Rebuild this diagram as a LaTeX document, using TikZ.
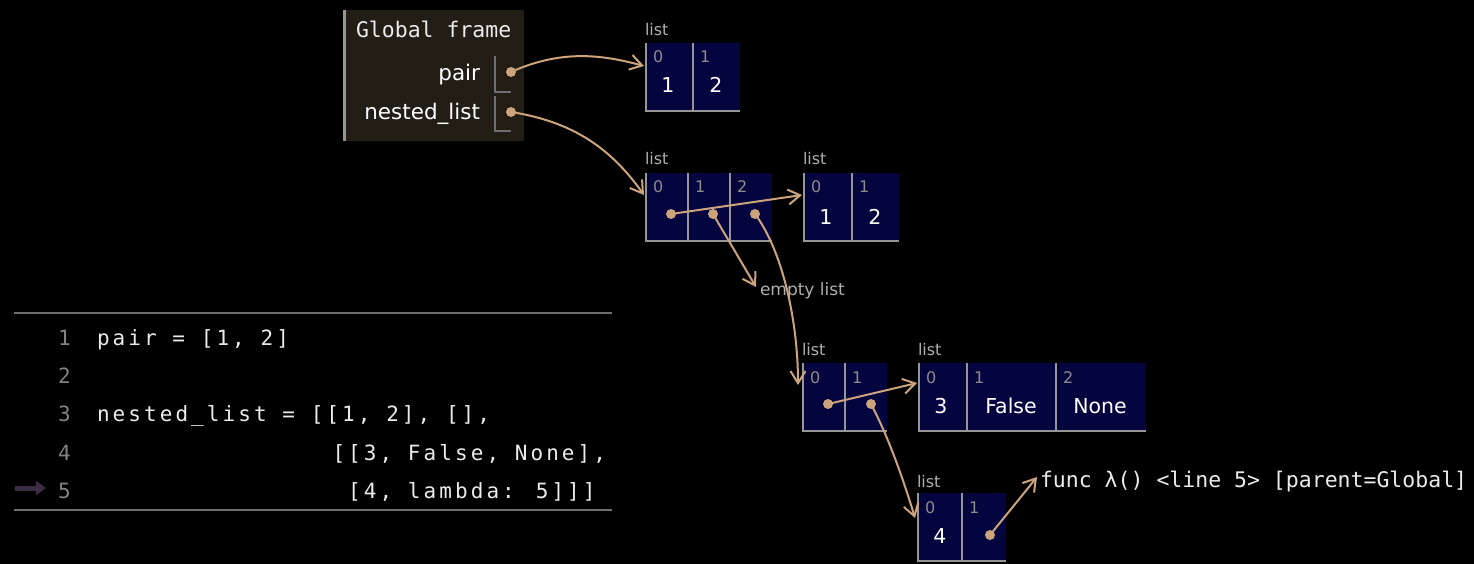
\documentclass[tikz,border=0pt]{standalone}
\usepackage{fontspec}
\setmainfont{DejaVu Sans}
\newfontfamily\monof{DejaVu Sans Mono}
\newfontfamily\codef[LetterSpace=14.6]{DejaVu Sans Mono}
\usetikzlibrary{arrows.meta}
\definecolor{framefill}{RGB}{34,29,21}
\definecolor{listfill}{RGB}{4,4,62}
\definecolor{ptr}{RGB}{204,164,124}
\definecolor{bordgray}{RGB}{150,150,150}
\definecolor{slotgray}{RGB}{110,110,110}
\definecolor{labgray}{RGB}{175,175,175}
\definecolor{idxgray}{RGB}{140,140,140}
\definecolor{codewhite}{RGB}{235,235,235}
\definecolor{lnogray}{RGB}{130,130,130}
\definecolor{curarrow}{RGB}{60,44,68}
\begin{document}
\begin{tikzpicture}[x=1pt,y=-1pt,
  every node/.style={inner sep=0pt,outer sep=0pt},
  listbox/.style={fill=listfill,anchor=north west,minimum height=68pt},
  listlab/.style={anchor=base west,text=labgray,font=\fontsize{16}{16}\selectfont},
  idx/.style={anchor=base west,text=idxgray,font=\fontsize{16}{16}\selectfont},
  val/.style={anchor=base,text=white,font=\fontsize{20.5}{22}\selectfont},
  dot/.style={circle,fill=ptr,minimum size=10pt},
  ptrline/.style={draw=ptr,line width=2pt,-{Straight Barb[length=12pt,width=15pt,line width=2pt]}},
  cellline/.style={draw=bordgray,line width=1.2pt},
  codetxt/.style={anchor=base west,text=codewhite,font=\codef\fontsize{21}{22}\selectfont},
  lno/.style={anchor=base west,text=lnogray,font=\codef\fontsize{21}{22}\selectfont}
]
\useasboundingbox[fill=black] (0,0) rectangle (1474,564);

% ---------- Global frame ----------
\node[fill=framefill,anchor=north west,minimum width=180pt,minimum height=131pt] (frame) at (344,10) {};
\draw[draw=bordgray,line width=3pt] (frame.north west) -- (frame.south west);
\node[anchor=base west,text=codewhite,font=\monof\fontsize{21.5}{22}\selectfont] (ftitle) at (356,38) {Global frame};
\node[anchor=base east,text=white,font=\fontsize{21.5}{22}\selectfont] (vpair) at (480,81) {pair};
\node[anchor=base east,text=white,font=\fontsize{21.5}{22}\selectfont] (vnested) at (480,120) {nested\_list};
\draw[draw=slotgray,line width=1.2pt] (495,56) -- (495,92) -- (511,92);
\draw[draw=slotgray,line width=1.2pt] (495,96) -- (495,131) -- (511,131);
\node[dot] (dpair) at (511,72) {};
\node[dot] (dnested) at (511,112) {};

% ---------- list A: pair ----------
\node[listlab] (labA) at (645,36) {list};
\node[listbox,minimum width=94pt] (LA) at (646,43) {};
\draw[cellline] (LA.north west) -- (LA.south west) -- (LA.south east);
\draw[cellline] (693,43) -- (693,111);
\node[idx] (iA0) at (653,63) {0};
\node[idx] (iA1) at (700,63) {1};
\node[val] (vA0) at (668,93) {1};
\node[val] (vA1) at (716,93) {2};
\coordinate (tA) at (644,66);

% ---------- list B: nested ----------
\node[listlab] (labB) at (645,165) {list};
\node[listbox,minimum width=126pt] (LB) at (646,173) {};
\draw[cellline] (LB.north west) -- (LB.south west) -- (LB.south east);
\draw[cellline] (688,173) -- (688,241);
\draw[cellline] (730,173) -- (730,241);
\node[idx] (iB0) at (653,193) {0};
\node[idx] (iB1) at (695,193) {1};
\node[idx] (iB2) at (737,193) {2};
\node[dot] (dB0) at (671,214) {};
\node[dot] (dB1) at (713,214) {};
\node[dot] (dB2) at (755,214) {};
\coordinate (tB) at (644,195);

% ---------- list C: [1,2] ----------
\node[listlab] (labC) at (803,165) {list};
\node[listbox,minimum width=95pt] (LC) at (804,173) {};
\draw[cellline] (LC.north west) -- (LC.south west) -- (LC.south east);
\draw[cellline] (852,173) -- (852,241);
\node[idx] (iC0) at (811,193) {0};
\node[idx] (iC1) at (859,193) {1};
\node[val] (vC0) at (826,224) {1};
\node[val] (vC1) at (875,224) {2};
\coordinate (tC) at (802,195);

% ---------- empty list ----------
\node[anchor=base west,text=labgray,font=\fontsize{17}{18}\selectfont] (empty) at (760,295) {empty list};
\coordinate (tE) at (756,287);

% ---------- list D ----------
\node[listlab] (labD) at (802,355) {list};
\node[listbox,minimum width=84pt] (LD) at (803,363) {};
\draw[cellline] (LD.north west) -- (LD.south west) -- (LD.south east);
\draw[cellline] (845,363) -- (845,431);
\node[idx] (iD0) at (810,383) {0};
\node[idx] (iD1) at (852,383) {1};
\node[dot] (dD0) at (828,404) {};
\node[dot] (dD1) at (871,404) {};
\coordinate (tD) at (798,385);

% ---------- list E ----------
\node[listlab] (labE) at (918,355) {list};
\node[listbox,minimum width=227pt] (LE) at (919,363) {};
\draw[cellline] (LE.north west) -- (LE.south west) -- (LE.south east);
\draw[cellline] (967,363) -- (967,431);
\draw[cellline] (1056,363) -- (1056,431);
\node[idx] (iE0) at (926,383) {0};
\node[idx] (iE1) at (974,383) {1};
\node[idx] (iE2) at (1063,383) {2};
\node[val] (vE0) at (941,413) {3};
\node[val] (vE1) at (1011,413) {False};
\node[val] (vE2) at (1100,413) {None};
\coordinate (tEE) at (917,383);

% ---------- list F ----------
\node[listlab] (labF) at (917,487) {list};
\node[listbox,minimum width=88pt] (LF) at (918,493) {};
\draw[cellline] (LF.north west) -- (LF.south west) -- (LF.south east);
\draw[cellline] (962,493) -- (962,561);
\node[idx] (iF0) at (925,513) {0};
\node[idx] (iF1) at (969,513) {1};
\node[val] (vF0) at (940,543) {4};
\node[dot] (dF1) at (990,535) {};
\coordinate (tF) at (915,518);

% ---------- function ----------
\node[anchor=base west,text=codewhite,font=\monof\fontsize{21.5}{22}\selectfont] (func) at (1040,487) {func λ() <line 5> [parent=Global]};
\coordinate (tfunc) at (1037,477);

% ---------- pointers ----------
\draw[ptrline] (dpair.center) .. controls (560,50) and (600,54) .. (tA);
\draw[ptrline] (dnested.center) .. controls (575,122) and (612,150) .. (tB);
\draw[ptrline] (dB0.center) -- (tC);
\draw[ptrline] (dB1.center) -- (tE);
\draw[ptrline] (dB2.center) .. controls (782,250) and (798,320) .. (tD);
\draw[ptrline] (dD0.center) -- (tEE);
\draw[ptrline] (dD1.center) .. controls (890,440) and (905,485) .. (tF);
\draw[ptrline] (dF1.center) -- (tfunc);

% ---------- code panel ----------
\draw[draw=slotgray,line width=1.2pt] (14,313) -- (612,313);
\draw[draw=slotgray,line width=1.2pt] (14,510) -- (612,510);
\node[lno] (n1) at (58,345) {1};
\node[lno] (n2) at (58,383) {2};
\node[lno] (n3) at (58,421) {3};
\node[lno] (n4) at (58,460) {4};
\node[lno] (n5) at (58,498) {5};
\node[codetxt] (c1) at (97,345) {pair = [1, 2]};
\node[codetxt] (c3) at (97,421) {nested\_list = [[1, 2], [],};
\node[codetxt] (c4) at (332.5,460) {[[3, False, None],};
\node[codetxt] (c5) at (348.2,498) {[4, lambda: 5]]]};
\coordinate (cs) at (15,488);
\draw[draw=curarrow,line width=5pt,-{Triangle[length=10pt,width=14pt]}] (cs) -- (46,488);
\end{tikzpicture}
\end{document}
